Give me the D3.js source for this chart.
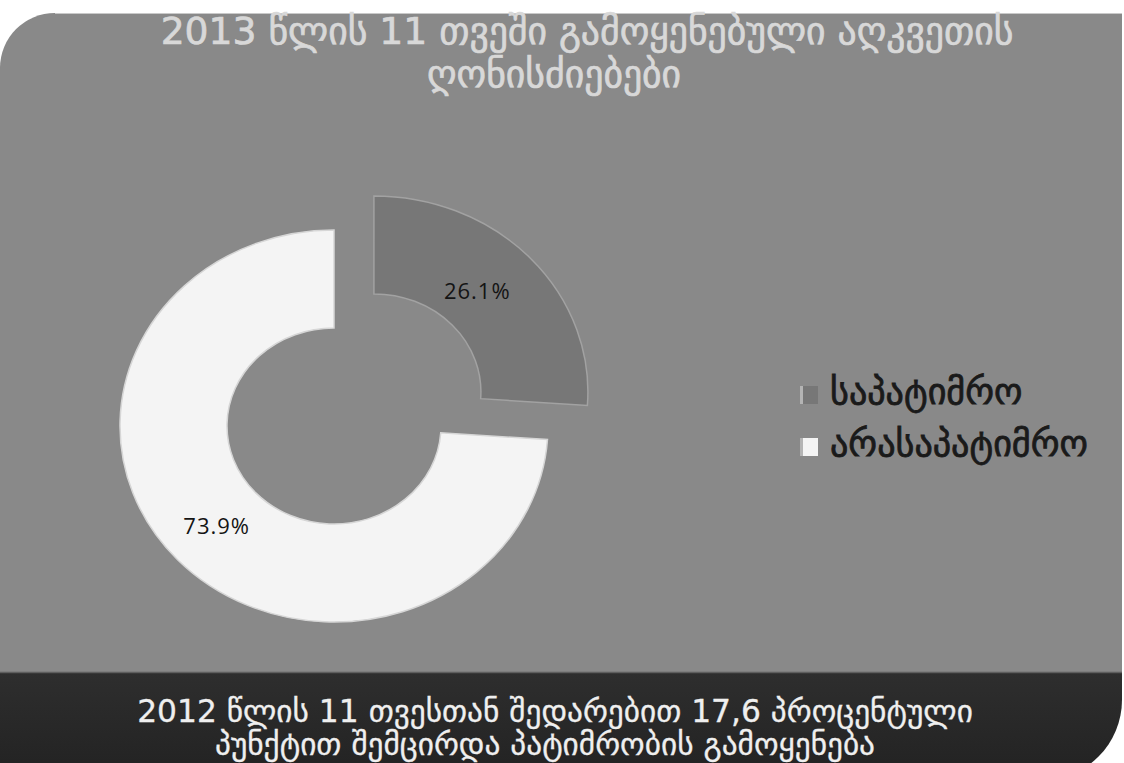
<!DOCTYPE html>
<html>
<head>
<meta charset="utf-8">
<script src="https://cdn.jsdelivr.net/npm/d3@7"></script>
<style>
  html, body { margin: 0; padding: 0; background: #ffffff; }
  svg { display: block; }
</style>
</head>
<body>
<div id="chart"></div>
<script>
// chart data
var categories = ["საპატიმრო", "არასაპატიმრო"];
var shares = [26.1, 73.9];
var titleLines = ["2013 წლის 11 თვეში გამოყენებული აღკვეთის", "ღონისძიებები"];
var noteLines = ["2012 წლის 11 თვესთან შედარებით 17,6 პროცენტული", "პუნქტით შემცირდა პატიმრობის გამოყენება"];

var sliceColors = ["#777777", "#f4f4f4"];
var sliceEdges = ["#a2a2a2", "#d6d6d6"];
var explode = [50, 0];

var W = 1124, H = 763;
var georgianFont = "'DejaVu Sans', Verdana, sans-serif";

// shrink or grow a text node's font so it spans the given width
function fitWidth(sel, width) {
    var w = sel.node().getComputedTextLength();
    var fs = parseFloat(sel.attr("font-size"));
    sel.attr("font-size", fs * width / w);
    return fs * width / w;
}

function drawChart() {
    var svg = d3.select("#chart")
        .append("svg")
        .attr("width", W)
        .attr("height", H);

    var panelRight = 1122, panelTop = 13, bandTop = 672;

    // grey panel with rounded top-left corner
    var rTL = 55;
    svg.append("path")
        .attr("d", "M0," + (panelTop + rTL) +
              " A" + rTL + "," + rTL + " 0 0 1 " + rTL + "," + panelTop +
              " L" + panelRight + "," + panelTop +
              " L" + panelRight + "," + bandTop +
              " L0," + bandTop + " Z")
        .attr("fill", "#898989");
    svg.append("line")
        .attr("x1", rTL).attr("x2", panelRight)
        .attr("y1", panelTop + 0.5).attr("y2", panelTop + 0.5)
        .attr("stroke", "#c9c9c9").attr("stroke-width", 1);

    // dark footer band with rounded bottom-right corner
    var rBR = 80, bandBottom = 780;
    var grad = svg.append("defs").append("linearGradient")
        .attr("id", "bandGrad").attr("x1", 0).attr("y1", 0).attr("x2", 0).attr("y2", 1);
    grad.append("stop").attr("offset", "0%").attr("stop-color", "#2e2e2e");
    grad.append("stop").attr("offset", "100%").attr("stop-color", "#222222");
    svg.append("path")
        .attr("d", "M0," + bandTop +
              " L" + panelRight + "," + bandTop +
              " L" + panelRight + "," + (bandBottom - rBR) +
              " A" + rBR + "," + rBR + " 0 0 1 " + (panelRight - rBR) + "," + bandBottom +
              " L0," + bandBottom + " Z")
        .attr("fill", "url(#bandGrad)");
    svg.append("line")
        .attr("x1", 0).attr("x2", panelRight)
        .attr("y1", bandTop + 0.5).attr("y2", bandTop + 0.5)
        .attr("stroke", "#5e5e5e").attr("stroke-width", 1.5);

    // title
    var t1 = svg.append("text")
        .attr("x", 587).attr("y", 44)
        .attr("text-anchor", "middle")
        .attr("font-family", georgianFont)
        .attr("font-size", 30)
        .attr("fill", "#d8d8d8")
        .attr("stroke", "#d8d8d8").attr("stroke-width", 0.7)
        .text(titleLines[0]);
    var tfs = fitWidth(t1, 853);
    svg.append("text")
        .attr("x", 554).attr("y", 87)
        .attr("text-anchor", "middle")
        .attr("font-family", georgianFont)
        .attr("font-size", tfs)
        .attr("fill", "#d8d8d8")
        .attr("stroke", "#d8d8d8").attr("stroke-width", 0.7)
        .text(titleLines[1]);

    // doughnut
    var cx = 334, cy = 426;
    var outerR = 196, innerR = 98;
    var sx = 214 / 196;

    var pie = d3.pie().sort(null).value(function(d) { return d; });
    var arcs = pie(shares);
    var arc = d3.arc().innerRadius(innerR).outerRadius(outerR);

    function offset(d, i) {
        var mid = (d.startAngle + d.endAngle) / 2;
        return [explode[i] * Math.sin(mid), -explode[i] * Math.cos(mid)];
    }

    var ring = svg.append("g")
        .attr("transform", "translate(" + cx + "," + cy + ") scale(" + sx + ",1)");

    ring.selectAll(".slice")
        .data(arcs)
        .enter().append("path")
        .attr("class", "slice")
        .attr("transform", function(d, i) { var o = offset(d, i); return "translate(" + o[0] + "," + o[1] + ")"; })
        .attr("d", arc)
        .attr("fill", function(d, i) { return sliceColors[i]; })
        .attr("stroke", function(d, i) { return sliceEdges[i]; })
        .attr("stroke-width", 1.5)
        .attr("vector-effect", "non-scaling-stroke");

    svg.selectAll(".slice-label")
        .data(arcs)
        .enter().append("text")
        .attr("class", "slice-label")
        .attr("x", function(d, i) { var c = arc.centroid(d), o = offset(d, i); return cx + (c[0] + o[0]) * sx - (i === 0 ? 14 : 0); })
        .attr("y", function(d, i) { var c = arc.centroid(d), o = offset(d, i); return cy + c[1] + o[1]; })
        .attr("dy", "0.35em")
        .attr("text-anchor", "middle")
        .attr("font-family", "'Open Sans', sans-serif")
        .attr("font-size", 22)
        .attr("letter-spacing", 1)
        .attr("fill", "#141414")
        .text(function(d) { return d.data.toFixed(1) + "%"; });

    // legend
    var legend = svg.append("g").attr("class", "legend");
    var item = legend.selectAll(".item")
        .data(categories)
        .enter().append("g")
        .attr("class", "item")
        .attr("transform", function(d, i) { return "translate(800," + (386 + i * 52) + ")"; });

    item.append("rect")
        .attr("width", 18).attr("height", 18)
        .attr("fill", function(d, i) { return sliceColors[i]; });
    item.append("rect")
        .attr("width", 3).attr("height", 18)
        .attr("fill", "#b4b4b4");

    var labels = item.append("text")
        .attr("x", 30).attr("y", 18)
        .attr("font-family", georgianFont)
        .attr("font-size", 26)
        .attr("fill", "#1a1a1a")
        .attr("stroke", "#1a1a1a").attr("stroke-width", 0.8)
        .text(function(d) { return d; });
    var lfs = fitWidth(d3.select(labels.nodes()[1]), 258);
    labels.attr("font-size", lfs);

    // footer note
    var n1 = svg.append("text")
        .attr("x", 555).attr("y", 722)
        .attr("text-anchor", "middle")
        .attr("font-family", georgianFont)
        .attr("font-size", 26)
        .attr("fill", "#efefef")
        .attr("stroke", "#efefef").attr("stroke-width", 0.3)
        .text(noteLines[0]);
    var nfs = fitWidth(n1, 836);
    svg.append("text")
        .attr("x", 545).attr("y", 755)
        .attr("text-anchor", "middle")
        .attr("font-family", georgianFont)
        .attr("font-size", nfs)
        .attr("fill", "#efefef")
        .attr("stroke", "#efefef").attr("stroke-width", 0.3)
        .text(noteLines[1]);
}

drawChart();
</script>
</body>
</html>
